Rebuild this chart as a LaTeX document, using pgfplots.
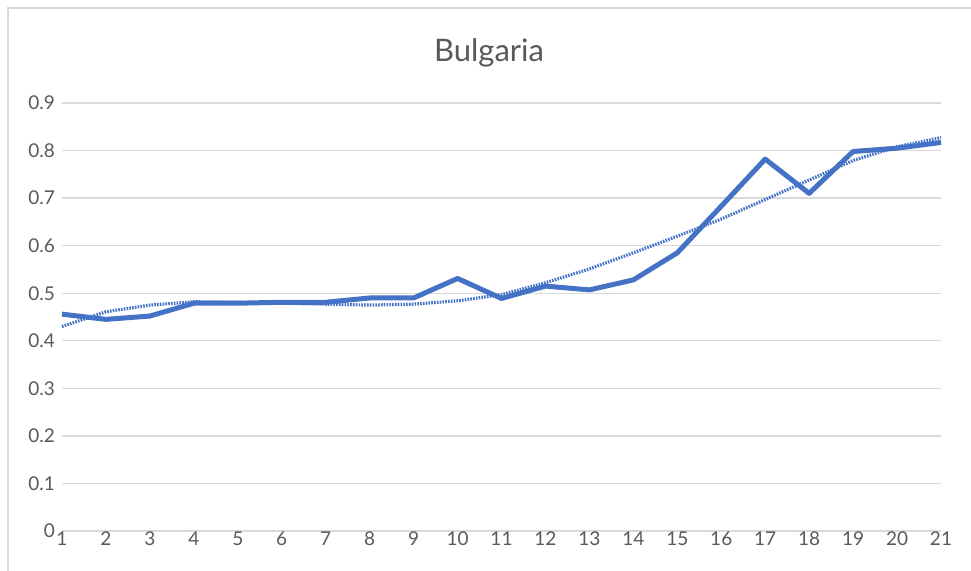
\documentclass[border=0pt]{standalone}
\usepackage{pgfplots}
\pgfplotsset{compat=1.18}
\usepackage{fontspec}
\setmainfont{Lato}
\definecolor{exblue}{HTML}{4472C4}
\definecolor{txtgray}{HTML}{595959}
\definecolor{gridgray}{HTML}{D9D9D9}
\begin{document}
\begin{tikzpicture}[x=1pt,y=1pt]
\begin{axis}[
  at={(62pt,39pt)}, anchor=south west,
  scale only axis, width=879pt, height=428pt,
  xmin=1, xmax=21, ymin=0, ymax=0.9,
  xtick={1,...,21}, ytick={0,0.1,...,0.9},
  axis line style={draw=none},
  major tick length=0pt,
  ymajorgrids, grid style={gridgray, line width=1.3pt},
  /pgf/number format/assume math mode=true,
  yticklabel style={/pgf/number format/fixed, /pgf/number format/precision=1, font=\fontsize{19}{22}\selectfont, text=txtgray, inner sep=0pt, xshift=-7pt},
  xticklabel style={font=\fontsize{19}{22}\selectfont, text=txtgray, inner sep=0pt, yshift=-1pt},
  clip=false,
]
\addplot[exblue, line width=3.2pt, dash pattern=on 1.6pt off 1.2pt, line cap=butt] coordinates {
(1,0.430) (2,0.461) (3,0.475) (4,0.482) (5,0.481) (6,0.479) (7,0.477) (8,0.475) (9,0.477) (10,0.484) (11,0.497)
(12,0.522) (13,0.551) (14,0.585) (15,0.620) (16,0.656) (17,0.697) (18,0.738) (19,0.779) (20,0.808) (21,0.827)};
\addplot[exblue, line width=5pt, line join=round] coordinates {
(1,0.456) (2,0.445) (3,0.452) (4,0.479) (5,0.479) (6,0.481) (7,0.481) (8,0.490) (9,0.490) (10,0.531)
(11,0.489) (12,0.515) (13,0.507) (14,0.528) (15,0.585) (16,0.683) (17,0.782) (18,0.710) (19,0.798) (20,0.805) (21,0.817)};
\end{axis}
\node[anchor=base, text=txtgray, font=\fontsize{31}{36}\selectfont] at (489pt,508pt) {Bulgaria};
\draw[gray!30, line width=1.5pt] (8pt,-5pt) -- (8pt,562pt) -- (980pt,562pt);
\pgfresetboundingbox
\useasboundingbox (0,0) rectangle (971pt,570pt);
\end{tikzpicture}
\end{document}
